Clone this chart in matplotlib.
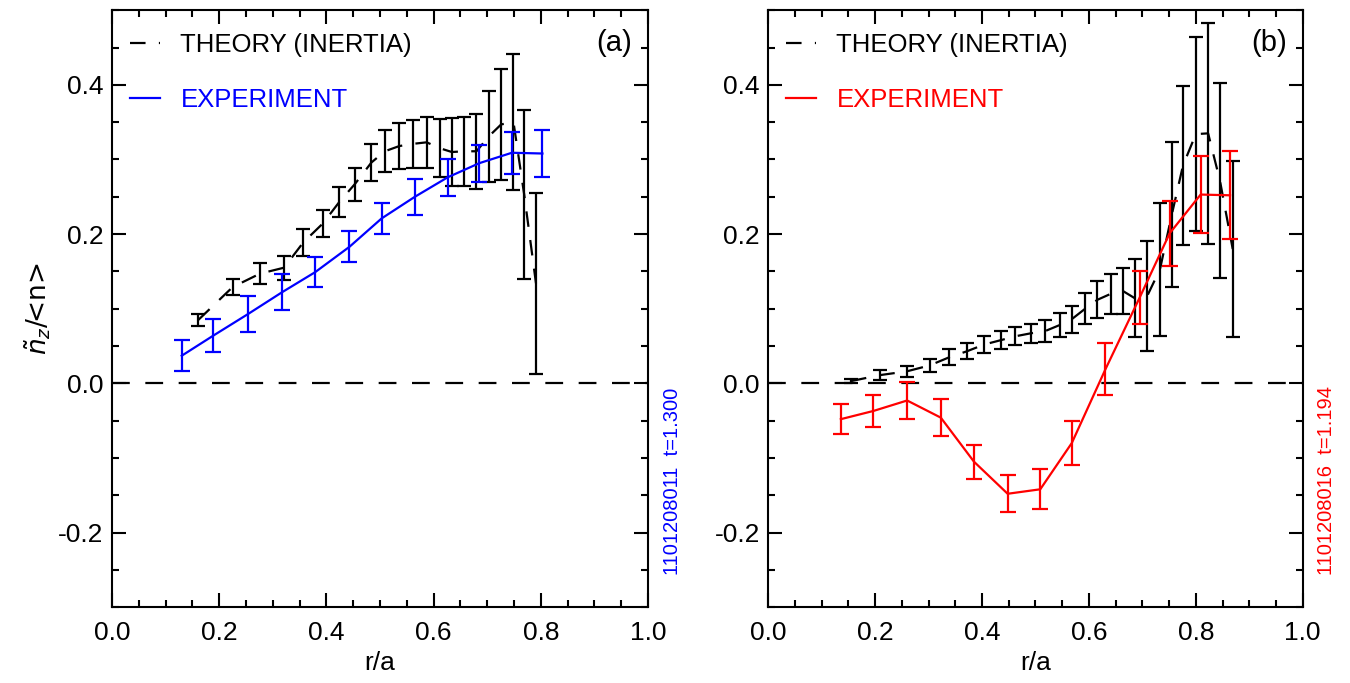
# n_z fluctuation profiles: theory vs experiment, two shots

import matplotlib
matplotlib.use("Agg")
import matplotlib.pyplot as plt
from matplotlib.ticker import MultipleLocator

plt.rcParams['font.family'] = ['Liberation Sans', 'DejaVu Sans']
plt.rcParams['mathtext.fontset'] = 'dejavusans'

# panel (a) shot 1101208011
ra_th_a = [0.161, 0.225, 0.276, 0.321, 0.357, 0.393, 0.424, 0.453, 0.484, 0.509, 0.536,
           0.562, 0.587, 0.612, 0.634, 0.657, 0.680, 0.703, 0.726, 0.749, 0.769, 0.791]
th_a = [0.085, 0.129, 0.147, 0.155, 0.189, 0.214, 0.243, 0.267, 0.296, 0.311, 0.318,
        0.321, 0.323, 0.315, 0.310, 0.311, 0.311, 0.331, 0.347, 0.350, 0.253, 0.134]
th_a_err = [0.008, 0.011, 0.014, 0.016, 0.018, 0.018, 0.020, 0.022, 0.025, 0.028, 0.031,
            0.032, 0.034, 0.039, 0.045, 0.046, 0.050, 0.061, 0.074, 0.091, 0.113, 0.121]
ra_exp_a = [0.130, 0.189, 0.254, 0.317, 0.379, 0.443, 0.503, 0.565, 0.626, 0.685, 0.746, 0.803]
exp_a = [0.037, 0.064, 0.093, 0.122, 0.149, 0.183, 0.221, 0.250, 0.276, 0.295, 0.309, 0.308]
exp_a_err = [0.021, 0.022, 0.024, 0.024, 0.020, 0.021, 0.021, 0.024, 0.025, 0.025, 0.028, 0.031]

# panel (b) shot 1101208016
ra_th_b = [0.155, 0.209, 0.259, 0.302, 0.339, 0.372, 0.404, 0.436, 0.462, 0.491, 0.518, 0.545, 0.568,
           0.593, 0.616, 0.641, 0.663, 0.686, 0.709, 0.733, 0.755, 0.776, 0.800, 0.823, 0.845, 0.869]
th_b = [0.003, 0.011, 0.016, 0.024, 0.035, 0.043, 0.052, 0.058, 0.063, 0.067, 0.070, 0.078, 0.086,
        0.100, 0.112, 0.120, 0.124, 0.114, 0.117, 0.153, 0.226, 0.292, 0.334, 0.335, 0.272, 0.180]
th_b_err = [0.003, 0.007, 0.007, 0.009, 0.011, 0.011, 0.012, 0.012, 0.012, 0.013, 0.015, 0.016, 0.018,
            0.021, 0.025, 0.027, 0.031, 0.052, 0.074, 0.089, 0.097, 0.107, 0.130, 0.148, 0.131, 0.118]
ra_exp_b = [0.136, 0.197, 0.260, 0.323, 0.385, 0.448, 0.509, 0.568, 0.631, 0.695, 0.751, 0.809, 0.864]
exp_b = [-0.048, -0.037, -0.023, -0.046, -0.105, -0.148, -0.142, -0.080, 0.019, 0.115, 0.201, 0.253, 0.252]
exp_b_err = [0.020, 0.022, 0.025, 0.025, 0.023, 0.025, 0.027, 0.030, 0.035, 0.036, 0.044, 0.051, 0.059]

panels = [
    (ra_th_a, th_a, th_a_err, ra_exp_a, exp_a, exp_a_err, 'blue', '(a)', '1101208011  t=1.300'),
    (ra_th_b, th_b, th_b_err, ra_exp_b, exp_b, exp_b_err, 'red', '(b)', '1101208016  t=1.194'),
]

FS = 19
LFS = 18.5
fig = plt.figure(figsize=(13.5, 6.83), dpi=100)
axes = [fig.add_axes([0.083, 0.111, 0.397, 0.874]),
        fig.add_axes([0.569, 0.111, 0.396, 0.874])]

for ax, (rt, t, te, rx, x, xe, col, tag, shot) in zip(axes, panels):
    ax.axhline(0.0, color='black', lw=1.6, dashes=[8, 7])
    ax.errorbar(rt, t, yerr=te, fmt='none', ecolor='black', elinewidth=1.6, capsize=5, capthick=1.6)
    ax.plot(rt, t, color='black', lw=1.6, dashes=[7, 6], label='THEORY (INERTIA)')
    ax.errorbar(rx, x, yerr=xe, fmt='none', ecolor=col, elinewidth=1.6, capsize=6, capthick=1.6)
    ax.plot(rx, x, color=col, lw=1.6, label='EXPERIMENT')

    ax.set_xlim(0, 1)
    ax.set_ylim(-0.3, 0.5)
    ax.xaxis.set_major_locator(MultipleLocator(0.2))
    ax.xaxis.set_minor_locator(MultipleLocator(0.05))
    ax.yaxis.set_major_locator(MultipleLocator(0.2))
    ax.yaxis.set_minor_locator(MultipleLocator(0.05))
    ax.xaxis.set_major_formatter(lambda v, p: f"{v:.1f}")
    ax.yaxis.set_major_formatter(lambda v, p: f"{v:.1f}")
    ax.tick_params(which='both', direction='in', top=True, right=True, width=1.5, labelsize=FS)
    ax.tick_params(which='major', length=10)
    ax.tick_params(which='minor', length=5)
    ax.tick_params(axis='x', pad=10)
    ax.tick_params(axis='y', pad=6)
    for s in ax.spines.values():
        s.set_linewidth(1.5)
    ax.set_xlabel('r/a', fontsize=FS, labelpad=4)

    ax.legend(loc='upper left', bbox_to_anchor=(0.034, 0.962), frameon=False, fontsize=LFS,
              borderpad=0, borderaxespad=0, handlelength=1.17, handletextpad=0.78,
              labelspacing=1.2, labelcolor=['black', col])
    ax.text(0.97, 0.945, tag, transform=ax.transAxes, ha='right', va='center', fontsize=21)
    ax.text(1.045, 0.054, shot, transform=ax.transAxes, rotation=90, ha='center', va='bottom',
            fontsize=14.5, color=col)

axes[0].set_ylabel(r'$\tilde{n}_z$/<n>', fontsize=FS, family='DejaVu Sans', labelpad=4)

fig.savefig('out.png', dpi=100)
